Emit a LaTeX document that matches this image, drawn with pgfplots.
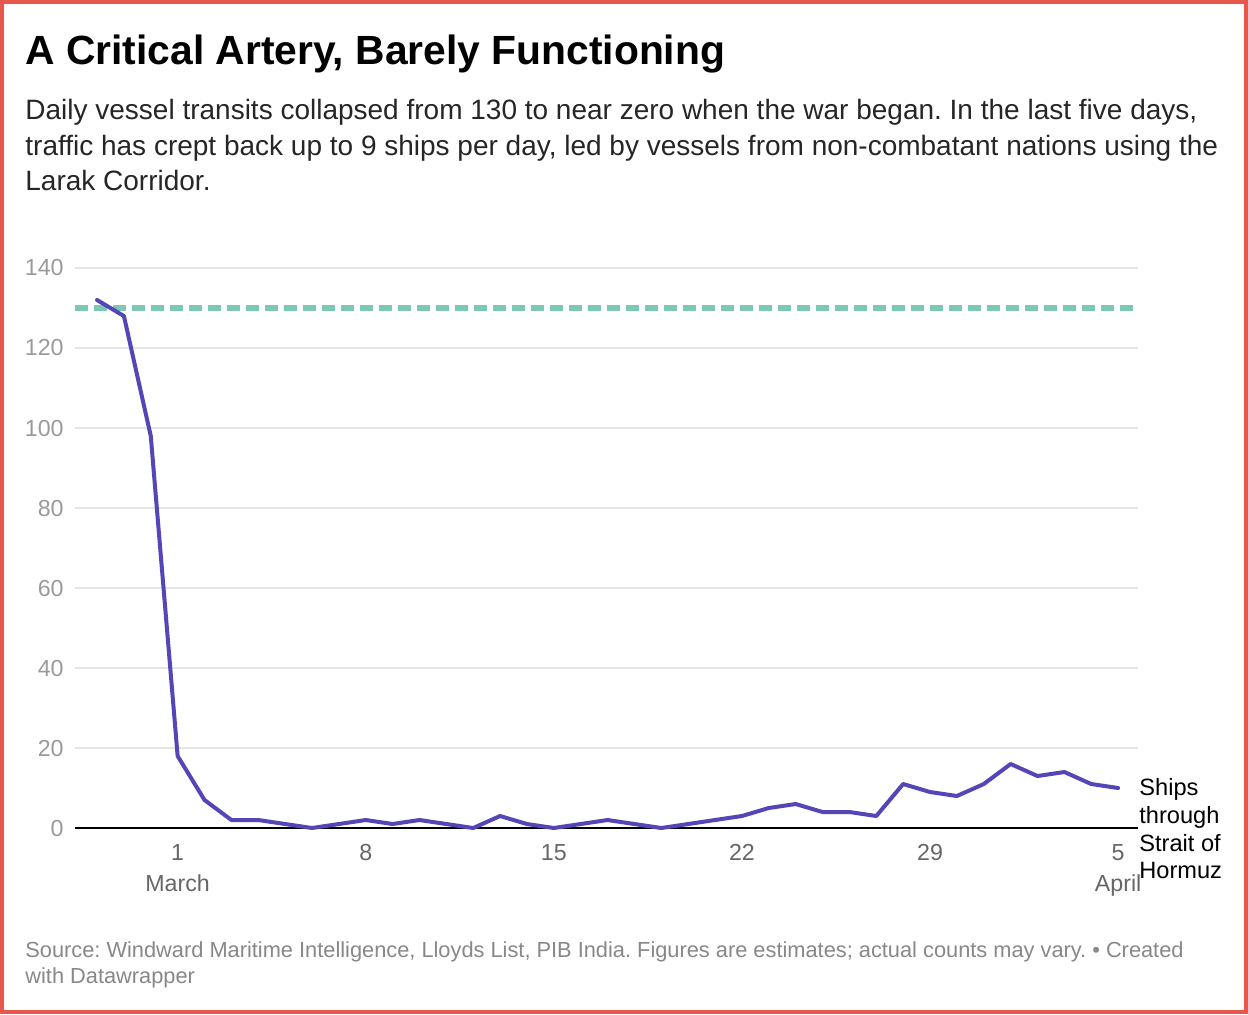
\documentclass[border=0pt]{standalone}
\usepackage{pgfplots}
\pgfplotsset{compat=1.18}
\usepackage{fontspec}
\setmainfont{Liberation Sans}
\frenchspacing

\definecolor{frame}{HTML}{E8574B}
\definecolor{ships}{HTML}{5546B8}
\definecolor{normal}{HTML}{7CC8B5}
\definecolor{gridc}{HTML}{E5E5E5}
\definecolor{ylab}{HTML}{9A9A9A}
\definecolor{xlab}{HTML}{666666}
\definecolor{srcc}{HTML}{888888}

% daily transits, day 0 = 1 March
\pgfplotstableread{
day ships
-3 132
-2 128
-1 98
0 18
1 7
2 2
3 2
4 1
5 0
6 1
7 2
8 1
9 2
10 1
11 0
12 3
13 1
14 0
15 1
16 2
17 1
18 0
19 1
20 2
21 3
22 5
23 6
24 4
25 4
26 3
27 11
28 9
29 8
30 11
31 16
32 13
33 14
34 11
35 10
}\transits

\begin{document}
\begin{tikzpicture}[x=0.5pt,y=-0.5pt]
\useasboundingbox (0,0) rectangle (1248,1014);
\fill[white] (0,0) rectangle (1248,1014);
\draw[frame, line width=2pt] (2,2) rectangle (1246,1012);

\node[anchor=base west, inner sep=0pt, font=\fontsize{20.4}{24}\selectfont\bfseries] at (25,64)
  {A Critical Artery, Barely Functioning};
\begin{scope}[every node/.style={anchor=base west, inner sep=0pt, font=\fontsize{14}{16}\selectfont, text=black!85}]
\node at (25,119) {Daily vessel transits collapsed from 130 to near zero when the war began. In the last five days,};
\node at (25,155) {traffic has crept back up to 9 ships per day, led by vessels from non-combatant nations using the};
\node at (25,190) {Larak Corridor.};
\end{scope}

\begin{scope}[every node/.style={anchor=base west, inner sep=0pt, font=\fontsize{10.9}{13}\selectfont, text=srcc}]
\node at (25,957) {Source: Windward Maritime Intelligence, Lloyds List, PIB India. Figures are estimates; actual counts may vary. \textbullet\ Created};
\node at (25,983) {with Datawrapper};
\end{scope}

\begin{axis}[
    at={(37.5pt,-414pt)}, anchor=south west,
    scale only axis, width=531.5pt, height=280pt,
    xmin=-3.82, xmax=35.74, ymin=0, ymax=140,
    clip=false,
    axis line style={draw=none},
    ymajorgrids, grid style={gridc, line width=0.6pt},
    major tick length=0pt,
    ytick={0,20,...,140},
    xtick={0,7,14,21,28,35},
    xticklabels={1\\March,8,15,22,29,5\\April},
    /pgf/number format/assume math mode=true,
    yticklabel style={text=ylab, font=\fontsize{11.6}{14}\selectfont, anchor=east, inner sep=0pt, xshift=-5.5pt},
    xticklabel style={text=xlab, font=\fontsize{11.6}{15.5}\selectfont, align=center, anchor=north, inner sep=0pt, yshift=-8pt},
]
\addplot[normal, line width=2.6pt, dash pattern=on 6.5pt off 3pt] coordinates {(-3.82,130) (35.74,130)};
\addplot[black, line width=1pt] coordinates {(-3.82,0) (35.74,0)};
\addplot[ships, line width=2pt, line join=round, line cap=round] table[x=day, y=ships] {\transits};
\end{axis}

\begin{scope}[every node/.style={anchor=base west, inner sep=0pt, font=\fontsize{11.8}{14}\selectfont, text=black}]
\node at (1139,795) {Ships};
\node at (1139,823) {through};
\node at (1139,851) {Strait of};
\node at (1139,878) {Hormuz};
\end{scope}
\end{tikzpicture}
\end{document}
